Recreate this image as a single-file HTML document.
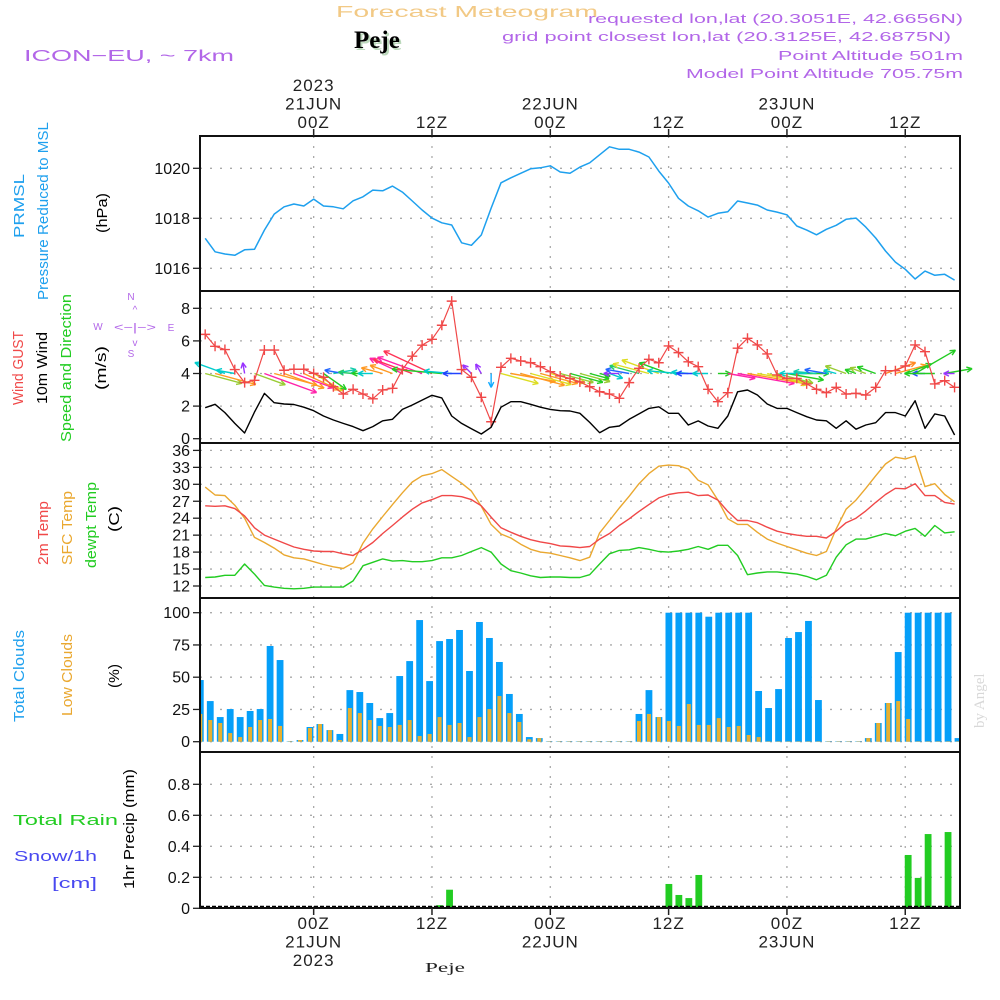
<!DOCTYPE html>
<html><head><meta charset="utf-8"><title>Forecast Meteogram - Peje</title>
<style>
html,body{margin:0;padding:0;background:#fff;}
svg{display:block;font-family:"Liberation Sans",sans-serif;}
</style></head>
<body>
<svg id="chart" xmlns="http://www.w3.org/2000/svg" width="1000" height="1000" viewBox="0 0 1000 1000">
<rect x="0" y="0" width="1000" height="1000" fill="#fff"/>
<text x="467" y="17" text-anchor="middle" font-size="16" fill="#f2c985" textLength="262" lengthAdjust="spacingAndGlyphs">Forecast Meteogram</text>
<text x="356" y="50" font-family="Liberation Serif,serif" font-weight="bold" font-size="25" fill="#bcd9bc">Peje</text>
<text x="354" y="48" font-family="Liberation Serif,serif" font-weight="bold" font-size="25" fill="#000">Peje</text>
<text x="24" y="61" font-size="16" fill="#b266e8" textLength="210" lengthAdjust="spacingAndGlyphs">ICON−EU, ~ 7km</text>
<text x="963" y="23" text-anchor="end" font-size="13" fill="#b266e8" textLength="375" lengthAdjust="spacingAndGlyphs">requested lon,lat (20.3051E, 42.6656N)</text>
<text x="951" y="41" text-anchor="end" font-size="13" fill="#b266e8" textLength="449" lengthAdjust="spacingAndGlyphs">grid point closest lon,lat (20.3125E, 42.6875N)</text>
<text x="963" y="60" text-anchor="end" font-size="13" fill="#b266e8" textLength="185" lengthAdjust="spacingAndGlyphs">Point Altitude 501m</text>
<text x="963" y="78" text-anchor="end" font-size="13" fill="#b266e8" textLength="277" lengthAdjust="spacingAndGlyphs">Model Point Altitude 705.75m</text>
<text transform="translate(984,728) rotate(-90)" font-family="Liberation Serif,serif" font-size="15" fill="#d8d8d8">by Angel</text>
<text x="425" y="972" font-family="Liberation Serif,serif" font-size="14" fill="#222" textLength="40" lengthAdjust="spacingAndGlyphs">Peje</text>

<g font-size="15">
<text transform="translate(24,238) rotate(-90)" fill="#1ea0ee" textLength="64" lengthAdjust="spacingAndGlyphs">PRMSL</text>
<text transform="translate(48,300) rotate(-90)" fill="#1ea0ee" textLength="178" lengthAdjust="spacingAndGlyphs">Pressure Reduced to MSL</text>
<text transform="translate(107,233) rotate(-90)" fill="#000" textLength="40" lengthAdjust="spacingAndGlyphs">(hPa)</text>
<text transform="translate(23,405) rotate(-90)" fill="#f04848" textLength="74" lengthAdjust="spacingAndGlyphs">Wind GUST</text>
<text transform="translate(47,404) rotate(-90)" fill="#000" textLength="72" lengthAdjust="spacingAndGlyphs">10m Wind</text>
<text transform="translate(71,442) rotate(-90)" fill="#22cc22" textLength="148" lengthAdjust="spacingAndGlyphs">Speed and Direction</text>
<text transform="translate(106,390) rotate(-90)" fill="#000" textLength="44" lengthAdjust="spacingAndGlyphs">(m/s)</text>
<text transform="translate(48,565) rotate(-90)" fill="#f04848" textLength="64" lengthAdjust="spacingAndGlyphs">2m Temp</text>
<text transform="translate(72,565) rotate(-90)" fill="#eaa830" textLength="74" lengthAdjust="spacingAndGlyphs">SFC Temp</text>
<text transform="translate(96,568) rotate(-90)" fill="#22cc22" textLength="86" lengthAdjust="spacingAndGlyphs">dewpt Temp</text>
<text transform="translate(119,532) rotate(-90)" fill="#000" textLength="26" lengthAdjust="spacingAndGlyphs">(C)</text>
<text transform="translate(24,722) rotate(-90)" fill="#1ea0ee" textLength="92" lengthAdjust="spacingAndGlyphs">Total Clouds</text>
<text transform="translate(72,716) rotate(-90)" fill="#eaa830" textLength="82" lengthAdjust="spacingAndGlyphs">Low Clouds</text>
<text transform="translate(119,688) rotate(-90)" fill="#000" textLength="24" lengthAdjust="spacingAndGlyphs">(%)</text>
<text transform="translate(134,889) rotate(-90)" fill="#000" textLength="120" lengthAdjust="spacingAndGlyphs">1hr Precip (mm)</text>
<text x="13" y="825" fill="#22cc22" textLength="105" lengthAdjust="spacingAndGlyphs">Total  Rain</text>
<text x="14" y="861" fill="#4848f0" textLength="83" lengthAdjust="spacingAndGlyphs">Snow/1h</text>
<text x="52" y="888" fill="#4848f0" textLength="45" lengthAdjust="spacingAndGlyphs">[cm]</text>
</g>
<g fill="#b266e8" stroke="none" font-size="10">
<text x="131" y="300" text-anchor="middle">N</text>
<text x="131" y="357" text-anchor="middle">S</text>
<text x="98" y="330" text-anchor="middle">W</text>
<text x="171" y="331" text-anchor="middle">E</text>
<text x="135" y="331" text-anchor="middle" font-size="11" textLength="42" lengthAdjust="spacingAndGlyphs">&lt;−|−&gt;</text>
<text x="135" y="313" text-anchor="middle" font-size="10">^</text>
<text x="135" y="346" text-anchor="middle" font-size="10">v</text>
</g>
<g id="plots"></g>
</svg>
<script>
const timeTickHours = [11, 23, 35, 47, 59, 71];
const topTickLabels = [["2023","21JUN","00Z"],["12Z"],["22JUN","00Z"],["12Z"],["23JUN","00Z"],["12Z"]];
const bottomTickLabels = [["00Z","21JUN","2023"],["12Z"],["00Z","22JUN"],["12Z"],["00Z","23JUN"],["12Z"]];

const pressure = [1017.2,1016.66,1016.57,1016.52,1016.74,1016.76,1017.53,1018.17,1018.46,1018.57,1018.49,1018.77,1018.49,1018.46,1018.38,1018.7,1018.86,1019.13,1019.1,1019.29,1019.05,1018.69,1018.33,1018.01,1017.82,1017.73,1017.02,1016.92,1017.33,1018.4,1019.42,1019.62,1019.8,1019.98,1020.02,1020.1,1019.85,1019.8,1020.05,1020.22,1020.54,1020.86,1020.76,1020.76,1020.65,1020.45,1019.89,1019.41,1018.8,1018.49,1018.3,1018.05,1018.2,1018.26,1018.69,1018.61,1018.53,1018.33,1018.25,1018.14,1017.69,1017.53,1017.34,1017.56,1017.72,1017.96,1018.01,1017.65,1017.21,1016.69,1016.25,1015.96,1015.57,1015.89,1015.72,1015.76,1015.53];
const pressureTicks = [1016, 1018, 1020];

const windGust = [6.4,5.67,5.47,4.24,3.44,3.58,5.44,5.44,4.2,4.26,4.26,4.01,3.77,3.19,2.74,3.03,2.74,2.45,2.99,3.09,4.24,5.06,5.74,6.1,6.96,8.44,4.24,3.77,2.54,1.04,4.38,4.93,4.77,4.66,4.42,4.11,3.85,3.7,3.48,3.19,2.88,2.74,2.48,3.44,4.32,4.87,4.66,5.69,5.28,4.72,4.42,3.03,2.27,2.82,5.55,6.16,5.75,5.2,3.91,3.7,3.7,3.36,3.03,2.82,3.15,2.74,2.78,2.68,3.15,4.17,4.17,4.46,5.75,5.34,3.36,3.56,3.15];
const wind10m = [1.9,2.11,1.6,0.94,0.35,1.64,2.78,2.21,2.13,2.1,1.93,1.72,1.39,1.15,0.94,0.74,0.49,0.74,1.1,1.19,1.8,2.07,2.37,2.66,2.5,1.39,0.94,0.61,0.29,0.7,1.93,2.27,2.27,2.11,1.93,1.8,1.72,1.7,1.56,1.0,0.37,0.7,0.78,1.19,1.52,1.86,1.96,1.56,1.56,0.84,1.09,0.78,0.64,1.39,2.88,2.99,2.68,2.13,1.86,1.86,1.6,1.35,1.15,1.1,0.64,1.1,0.58,0.84,0.98,1.6,1.6,1.39,2.33,0.64,1.52,1.39,0.23];
const windDir = [-15,-15,160,170,100,-20,-20,-15,-20,-20,-25,-30,-35,10,170,175,180,180,165,160,155,160,160,155,175,175,180,135,120,-90,-15,-10,-15,-15,-15,-15,-15,-15,-15,-15,-15,-20,180,170,165,165,160,160,175,175,180,180,0,-10,-10,-10,-10,-15,-15,-10,0,180,175,170,165,160,160,160,160,20,15,20,30,180,180,10,180];
const windColor = ["#99cc33","#ff9922","#00cccc","#00cccc","#9933ff","#99cc33","#ff22aa","#ff9922","#ff9922","#ff22aa","#ff9922","#dddd22","#22cc22","#11ccaa","#2266ff","#22cc66","#22cc22","#00cccc","#ff9922","#ff9922","#ff22aa","#ff3355","#ff22aa","#ff3355","#22cc22","#00cccc","#2244ff","#9933ff","#9933ff","#11aaff","#dddd22","#ff9922","#ff9922","#dddd22","#ff9922","#dddd22","#99cc33","#22cc22","#99cc33","#22cc22","#22cc22","#00cccc","#9933ff","#2266ff","#22cc66","#dddd22","#dddd22","#22cc22","#00cccc","#00cccc","#2244ff","#00cccc","#22cc22","#ff22aa","#ff22aa","#ff9922","#dddd22","#dddd22","#99cc33","#22cc22","#22cc22","#00cccc","#11ccaa","#2266ff","#00cccc","#99cc33","#22cc22","#99cc33","#22cc22","#ff8822","#ff9922","#22cc22","#22cc22","#2244ff","#22cc22","#22cc22","#9933ff"];
const windTicks = [0, 2, 4, 6, 8];

const temp2m = [26.2,26.1,26.2,25.7,24.4,22.3,21,20.3,19.6,18.9,18.5,18.2,18.1,18.1,17.7,17.4,18.5,19.7,21.3,22.7,24.2,25.6,26.7,27.3,28,28,27.8,27.3,26.2,24.2,22.3,21.5,20.8,20.2,19.8,19.5,19.1,19,18.8,19,20.3,21.3,22.7,23.9,25.2,26.4,27.6,28.2,28.5,28.6,28,28.1,27.2,25.2,23.6,23.6,23.2,22.4,21.7,21.3,21,20.8,20.8,20.5,21.7,23.2,24,25.3,26.8,28.2,29.3,29.2,30.1,28,28,26.8,26.5];
const tempSfc = [29.5,28.1,28,26.3,24,20.6,19.7,18.7,17.5,17,16.8,16.3,15.8,15.4,15.1,16.1,19.6,22.1,24.3,26.4,28.5,30.4,31.5,31.9,32.6,31.4,30.2,28.8,26.1,22.9,21.2,20.5,19.4,18.5,18,17.8,17.4,17,16.5,17.1,21.4,23.6,25.8,27.9,30.1,31.9,33.2,33.4,33.3,32.7,30.7,29.9,27.2,23.9,22.9,22.9,21.5,20.3,19.6,19,18.4,17.8,17.4,18.1,22.1,25.6,27.2,29.3,31.5,33.6,34.8,34.5,35,29.6,30.1,28.2,26.9];
const dewpt = [13.5,13.6,13.9,13.9,15.9,14.1,12.1,11.8,11.6,11.5,11.6,11.8,11.8,11.8,11.8,12.9,15.6,16.2,16.8,16.4,16.5,16.3,16.3,16.5,17,17,17.4,18.1,18.8,18,15.9,14.7,14.3,13.8,13.5,13.6,13.6,13.5,13.5,14,15.9,17.7,18.3,18.4,18.8,18.5,18.1,18,18.2,18.5,19,18.5,19.2,19.2,17.4,14,14.3,14.5,14.5,14.3,14.1,13.7,13.1,13.9,17.1,19.3,20.3,20.3,20.8,21.3,20.9,21.7,22.2,20.8,22.7,21.4,21.6];
const tempTicks = [12, 15, 18, 21, 24, 27, 30, 33, 36];

const totalClouds = [47.8,31.5,19.1,25.3,19.1,23.8,25.3,74.2,63.3,0.3,1.3,11.4,13.7,9,6,40,38.5,30,18.3,22.2,50.9,62.5,94.3,47,78,79.6,86.6,54.8,92.8,80.4,61.8,37,21.5,3.6,2.8,0.3,0.3,0.3,0.3,0.3,0.3,0.3,0.3,0.3,21.5,40,19.1,100,100,100,100,96.9,100,100,100,100,39.3,26.1,40.8,80.4,85,93.6,32.3,0.3,0.3,0.3,0.3,2.8,14.5,30,69.5,100,100,100,100,100,2.8];
const lowClouds = [21.5,16.8,14.5,6.7,3.6,11.4,16.8,17.6,12.2,0.3,1.3,10.6,13.7,9,1.3,26.1,22.2,16.8,12.2,11.4,13,16.8,4.4,6,19.1,13,14.5,3.6,19.1,25.3,35.4,22.2,15.3,1.9,2.8,0.3,0.3,0.3,0.3,0.3,0.3,0.3,0.3,0.3,16,21.5,19.1,16,12.2,29.2,13,13,18.3,11.4,12.2,5.2,3.6,0.3,0.3,0.3,0.3,0.3,0.3,0.3,0.3,0.3,0.3,2.8,14.5,30,31.5,17.6,0.3,0.3,0.3,0.3,0.3];
const cloudTicks = [0, 25, 50, 75, 100];

const precip = [0,0,0,0,0,0,0,0,0,0,0,0,0,0,0,0,0,0,0,0,0,0,0,0,0.02,0.12,0.005,0,0,0,0,0,0,0,0,0,0,0,0,0,0,0,0,0,0,0,0,0.157,0.086,0.066,0.215,0,0,0,0,0,0,0,0,0,0,0,0,0,0,0,0,0,0,0,0,0.344,0.196,0.479,0,0.492,0];
const precipTicks = [0, 0.2, 0.4, 0.6, 0.8];
const precipTickLabels = ["0","0.2","0.4","0.6","0.8"];

const X0 = 200, X1 = 960;
function xh(i){ return 205.2 + 9.86 * i; }
function xb(k){ return 200.3 + 9.97 * k; }
function yP(v){ return 218.3 - (v - 1018) * 25; }
function yW(v){ return 438.7 - v * 16.3; }
function yT(v){ return 586 - (v - 12) * 5.65; }
function yC(v){ return 741.7 - v * 1.29; }
function yR(v){ return 908.3 - v * 155; }
const panels = [
  {name:"pressure", top:136, bottom:291},
  {name:"wind", top:291, bottom:443},
  {name:"temperature", top:443, bottom:598},
  {name:"clouds", top:598, bottom:752},
  {name:"precip", top:752, bottom:908}
];

const NS = "http://www.w3.org/2000/svg";
const root = document.getElementById("plots");
function mk(tag, attrs, parent){
  const e = document.createElementNS(NS, tag);
  for (const k in attrs) e.setAttribute(k, attrs[k]);
  (parent || root).appendChild(e);
  return e;
}
function gridH(y){
  const l = mk("line", {x1:X0, x2:X1, y1:y, y2:y, stroke:"#aaa", "stroke-width":1.3, "stroke-dasharray":"2,8"});
  
  
}
function yTick(y, label, nm){
  const t = mk("line", {x1:193, x2:X0, y1:y, y2:y, stroke:"#222", "stroke-width":1.3});
  
  
  const tx = mk("text", {x:190, y:y+5.5, "text-anchor":"end", "font-size":16, fill:"#111"});
  tx.textContent = label;
  
  
}
function polyline(vals, yf, color, nm, w){
  const pts = vals.map((v,i) => xh(i).toFixed(1) + "," + yf(v).toFixed(1)).join(" ");
  const p = mk("polyline", {points:pts, fill:"none", stroke:color, "stroke-width":w || 1.4, "stroke-linejoin":"round"});
  
  
  return p;
}

timeTickHours.forEach(h => {
  const x = xh(h);
  const v = mk("line", {x1:x, x2:x, y1:136, y2:908, stroke:"#aaa", "stroke-width":1.3, "stroke-dasharray":"2,8"});
  
  
});

pressureTicks.forEach(v => { gridH(yP(v)); yTick(yP(v), String(v), 'pressure-tick-label'); });
polyline(pressure, yP, "#1ea0ee", "pressure-line", 1.5);

windTicks.forEach(v => { gridH(yW(v)); yTick(yW(v), String(v), 'wind-tick-label'); });
windDir.forEach((d, i) => {
  const L = Math.max(wind10m[i] * 20, 11);
  const a = d * Math.PI / 180;
  const x1 = xh(i), y1 = yW(4);
  const x2 = x1 + L * Math.cos(a), y2 = y1 - L * Math.sin(a);
  const g = mk("g", {stroke:windColor[i], "stroke-width":1.4, fill:"none"});
  
  
  mk("line", {x1:x1, y1:y1, x2:x2, y2:y2}, g);
  const hl = 6, ha = 0.45;
  [a + Math.PI - ha, a + Math.PI + ha].forEach(b => {
    mk("line", {x1:x2, y1:y2, x2:x2 + hl * Math.cos(b), y2:y2 - hl * Math.sin(b)}, g);
  });
});
polyline(windGust, yW, "#f04848", "wind-gust-line", 1.2);
windGust.forEach((v, i) => {
  const x = xh(i), y = yW(v);
  const m = mk("path", {d:`M${x-5},${y}H${x+5}M${x},${y-5}V${y+5}`, stroke:"#f04848", "stroke-width":1.4});
  
  
});
polyline(wind10m, yW, "#000", "wind-10m-line", 1.4);

tempTicks.forEach(v => { gridH(yT(v)); yTick(yT(v), String(v), 'temp-tick-label'); });
polyline(tempSfc, yT, "#eaa830", "sfc-temp-line", 1.4);
polyline(temp2m, yT, "#f04848", "temp-2m-line", 1.4);
polyline(dewpt, yT, "#22cc22", "dewpt-line", 1.4);

cloudTicks.forEach(v => { gridH(yC(v)); yTick(yC(v), String(v), 'cloud-tick-label'); });
totalClouds.forEach((v, k) => {
  const x = Math.max(xb(k) - 3.4, X0), x2 = Math.min(xb(k) + 3.4, X1);
  const r = mk("rect", {x:x, y:yC(v), width:x2 - x, height:yC(0) - yC(v), fill:"#059ff9"});
  
  
});
lowClouds.forEach((v, k) => {
  const x = Math.max(xb(k) - 2, X0), x2 = Math.min(xb(k) + 2, X1);
  const r = mk("rect", {x:x, y:yC(v), width:x2 - x, height:yC(0) - yC(v), fill:"#e8b030"});
  
  
});

precipTicks.forEach((v, j) => { if (v > 0) gridH(yR(v)); yTick(yR(v), precipTickLabels[j], 'precip-tick-label'); });
precip.forEach((v, k) => {
  if (v <= 0) return;
  const r = mk("rect", {x:xb(k) - 3.4, y:yR(v), width:6.8, height:yR(0) - yR(v), fill:"#22cc22"});
  
  
});
const base = mk("line", {x1:X0, x2:X1, y1:906.5, y2:906.5, stroke:"#000", "stroke-width":1.5, "stroke-dasharray":"4,2"});



panels.forEach(p => {
  const r = mk("rect", {x:X0, y:p.top, width:X1 - X0, height:p.bottom - p.top, fill:"none", stroke:"#111", "stroke-width":2});
  
  
});

timeTickHours.forEach((h, j) => {
  const x = xh(h);
  const t1 = mk("line", {x1:x, x2:x, y1:129, y2:136, stroke:"#222", "stroke-width":1.5});
  
  
  const t2 = mk("line", {x1:x, x2:x, y1:908, y2:915, stroke:"#222", "stroke-width":1.5});
  
  
  const top = topTickLabels[j];
  top.forEach((s, n) => {
    const tx = mk("text", {x:x, y:128 - (top.length - 1 - n) * 18.5, "text-anchor":"middle", "font-size":17, fill:"#222", "letter-spacing":"1"});
    tx.textContent = s;
    
    
  });
  bottomTickLabels[j].forEach((s, n) => {
    const tx = mk("text", {x:x, y:929 + n * 18.5, "text-anchor":"middle", "font-size":17, fill:"#222", "letter-spacing":"1"});
    tx.textContent = s;
    
    
  });
});
</script>
</body></html>
